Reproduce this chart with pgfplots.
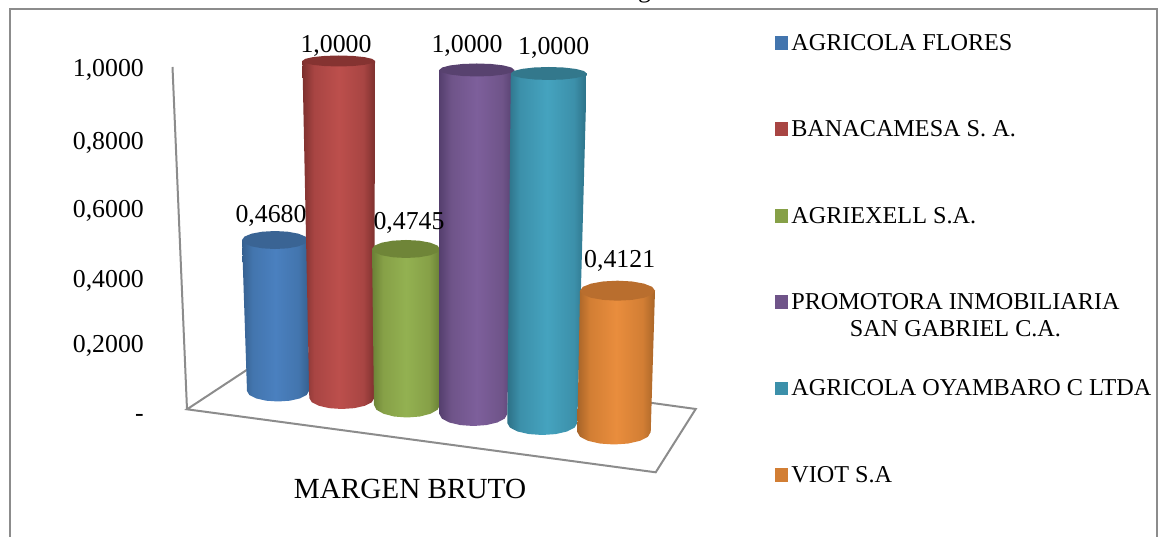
\documentclass[border=0pt]{standalone}
\usepackage{fontspec}
\setmainfont{Liberation Serif}
\usepackage{pgfplots}
\usepackage{pgfplotstable}
\pgfplotsset{compat=1.18}

% Cylinder body colours: edge, shoulder, highlight, and the darker top cap
\definecolor{blueA}{HTML}{36608F}\definecolor{blueB}{HTML}{4375AE}\definecolor{blueC}{HTML}{4A80BF}\definecolor{blueCap}{HTML}{3A6494}
\definecolor{redA}{HTML}{7D302E}\definecolor{redB}{HTML}{A84543}\definecolor{redC}{HTML}{BC4F4C}\definecolor{redCap}{HTML}{853331}
\definecolor{greenA}{HTML}{6A8036}\definecolor{greenB}{HTML}{86A047}\definecolor{greenC}{HTML}{93B151}\definecolor{greenCap}{HTML}{6F8538}
\definecolor{purpleA}{HTML}{553F6E}\definecolor{purpleB}{HTML}{6F5489}\definecolor{purpleC}{HTML}{7D5F9B}\definecolor{purpleCap}{HTML}{58426F}
\definecolor{tealA}{HTML}{2D7187}\definecolor{tealB}{HTML}{3C90AA}\definecolor{tealC}{HTML}{45A3BF}\definecolor{tealCap}{HTML}{33788C}
\definecolor{orangeA}{HTML}{A86528}\definecolor{orangeB}{HTML}{D27E34}\definecolor{orangeC}{HTML}{E98D3D}\definecolor{orangeCap}{HTML}{B96E2E}
\definecolor{frameGray}{HTML}{8C8C8C}

\newcommand\declcyl[4]{\pgfdeclarehorizontalshading{#1}{100bp}{color(0bp)=(#2); color(25bp)=(#2); color(33bp)=(#3); color(50bp)=(#4); color(67bp)=(#3); color(75bp)=(#2); color(100bp)=(#2)}}
\declcyl{cylblue}{blueA}{blueB}{blueC}
\declcyl{cylred}{redA}{redB}{redC}
\declcyl{cylgreen}{greenA}{greenB}{greenC}
\declcyl{cylpurple}{purpleA}{purpleB}{purpleC}
\declcyl{cylteal}{tealA}{tealB}{tealC}
\declcyl{cylorange}{orangeA}{orangeB}{orangeC}

% Outline of a cylinder: t=1 belongs to the top ring, t=0 to the bottom ring
\pgfplotstableread{
t u v
1 -1 0
0 -1 0
0 -0.924 0.383
0 -0.707 0.707
0 -0.383 0.924
0 0 1
0 0.383 0.924
0 0.707 0.707
0 0.924 0.383
0 1 0
1 1 0
}\bodyprofile
\pgfplotstableread{
u v
-1 0
-0.924 0.383
-0.707 0.707
-0.383 0.924
0 1
0.383 0.924
0.707 0.707
0.924 0.383
1 0
0.924 -0.383
0.707 -0.707
0.383 -0.924
0 -1
-0.383 -0.924
-0.707 -0.707
-0.924 -0.383
}\capprofile

% Ring geometry: top centre, half width, half depth; then the same for the bottom
\newcommand\cylrings[6]{\def\cxT{#1}\def\rxT{#2}\def\ryT{#3}\def\cxB{#4}\def\rxB{#5}\def\ryB{#6}}
% Args: shading, cap colour, value, floor level, height of a unit value
\newcommand\cylinder[5]{%
  \pgfmathsetmacro\cylTop{#4-#5*#3}%
  \addplot[forget plot, draw=none, shading=#1] table[
    x expr={\thisrow{t}*(\cxT+\rxT*\thisrow{u})+(1-\thisrow{t})*(\cxB+\rxB*\thisrow{u})},
    y expr={(413-(\thisrow{t}*(\cylTop+\ryT*\thisrow{v})+(1-\thisrow{t})*(#4+\ryB*\thisrow{v})))/345}
  ]{\bodyprofile} --cycle;
  \addplot[forget plot, draw=none, fill=#2] table[
    x expr={\cxT+\rxT*\thisrow{u}},
    y expr={(413-(\cylTop+\ryT*\thisrow{v}))/345}
  ]{\capprofile} --cycle;
}
% Value label: value, centre x, baseline height
\newcommand\vallabel[3]{%
  \node[anchor=base, inner sep=0pt, font=\fontsize{25.8}{30}\selectfont] at (axis cs:#2,{(413-#3)/345})
    {\pgfmathprintnumber[fixed, fixed zerofill, precision=4, use comma]{#1}};
}
\newcommand\legsquare[1]{\addlegendimage{legend image code/.code={\fill[#1] (0pt,1.3pt) rectangle (12pt,14pt);}}}

\begin{document}
\begin{tikzpicture}
\useasboundingbox (0,0) rectangle (1159pt,537pt);
\clip (0,0) rectangle (1159pt,537pt);
\begin{axis}[
  at={(0,0)}, anchor=south west,
  scale only axis, width=1159pt, height=537pt,
  xmin=0, xmax=1159, ymin=-0.35942, ymax=1.19710,
  clip=false,
  axis line style={draw=none},
  major tick style={draw=none},
  /pgf/number format/assume math mode=true,
  ytick={0,0.2,0.388,0.591,0.788,1},
  yticklabels={-,{0,2000},{0,4000},{0,6000},{0,8000},{1,0000}},
  yticklabel style={anchor=east, inner sep=0pt, xshift=144pt, text height=17.5pt, text depth=0pt, font=\fontsize{25.8}{30}\selectfont},
  xtick={410},
  xticklabels={MARGEN BRUTO},
  xticklabel style={anchor=base, inner sep=0pt, yshift=38.7pt, font=\fontsize{29.2}{32}\selectfont},
  legend cell align=left,
  legend style={
    at={(axis cs:775,1.0985)}, anchor=north west,
    draw=none, fill=none, inner sep=0pt,
    row sep=70.4pt, column sep=3.7pt,
    font=\fontsize{24.2}{27}\selectfont,
    nodes={inner sep=0pt, text height=16pt, text depth=0pt, anchor=base west},
  },
]
% Floor of the 3D plot and the slanted value axis
\addplot[forget plot, frameGray, line width=2pt] coordinates {(187,0.0107) (275.5,0.1797) (695.7,0.0116) (655.7,-0.1719)} --cycle;
\addplot[forget plot, frameGray, line width=2pt] coordinates {(172.5,1.0029) (187,0.0107)};

\cylrings{275}{33}{9}{278}{31}{10.5}
\cylinder{cylblue}{blueCap}{0.4680}{391}{322.6}
\cylrings{338.7}{36.3}{5.5}{341.8}{32.5}{11}
\cylinder{cylred}{redCap}{1.0000}{398}{337}
\cylrings{406}{34}{9}{407}{33}{12.5}
\cylinder{cylgreen}{greenCap}{0.4745}{405}{328.8}
\cylrings{476.8}{37.5}{6.5}{473.3}{34}{12}
\cylinder{cylpurple}{purpleCap}{1.0000}{414}{344}
\cylrings{548.8}{38}{6.5}{542.3}{35}{12}
\cylinder{cylteal}{tealCap}{1.0000}{423}{349.5}
\cylrings{617.5}{37.5}{10}{614}{36.7}{12.5}
\cylinder{cylorange}{orangeCap}{0.4121}{432}{342.9}

\vallabel{0.4680}{271}{223}
\vallabel{1.0000}{336}{53}
\vallabel{0.4745}{409}{230}
\vallabel{1.0000}{467}{53}
\vallabel{1.0000}{553.7}{55}
\vallabel{0.4121}{619.7}{268}

\legsquare{blueB}\addlegendentry{AGRICOLA FLORES}
\legsquare{redB}\addlegendentry{BANACAMESA S. A.}
\legsquare{greenB}\addlegendentry{AGRIEXELL S.A.}
\legsquare{purpleB}\addlegendentry{\smash{\begin{tabular}[t]{@{}c@{}}PROMOTORA INMOBILIARIA\\SAN GABRIEL C.A.\end{tabular}}}
\legsquare{tealB}\addlegendentry{AGRICOLA OYAMBARO C LTDA}
\legsquare{orangeB}\addlegendentry{VIOT S.A}

% Title line, only its lower edge falls inside the picture
\node[anchor=base, inner sep=0pt, font=\fontsize{25.8}{30}\selectfont] at (axis cs:668,1.2044) {Margen Bruto};
\end{axis}
% Chart frame, open along the bottom
\draw[frameGray, line width=2pt] (9.5pt,0pt) -- (9.5pt,527.5pt) -- (1157pt,527.5pt) -- (1157pt,0pt);
\end{tikzpicture}
\end{document}
